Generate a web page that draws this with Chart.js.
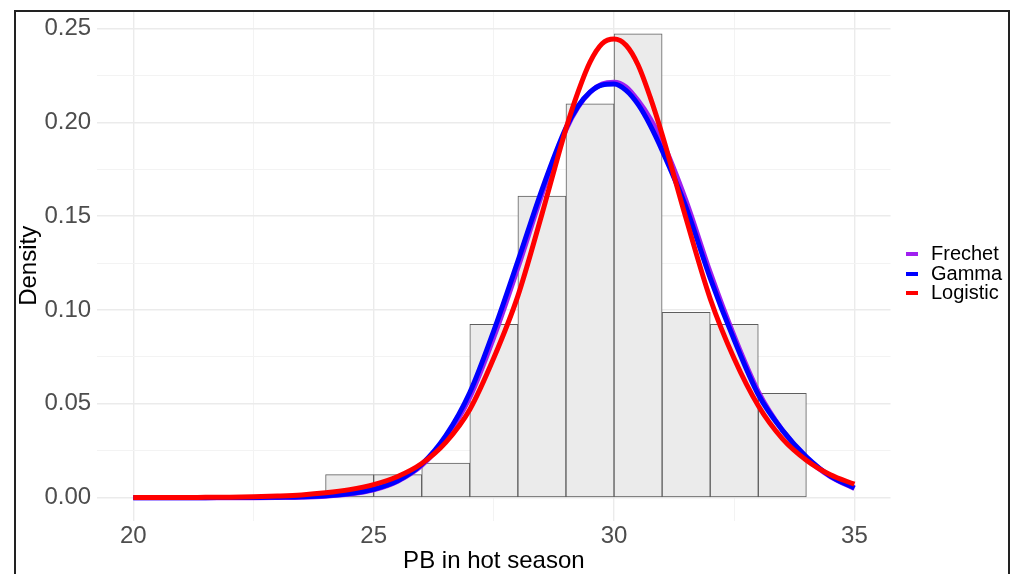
<!DOCTYPE html>
<html>
<head>
<meta charset="utf-8">
<script src="https://cdn.jsdelivr.net/npm/chart.js@4"></script>
<style>
  html, body { margin: 0; padding: 0; background: #fff; overflow: hidden; width: 1014px; height: 574px; }
  #wrap { position: relative; width: 1014px; height: 574px; }
  canvas { position: absolute; left: 0; top: 0; }
  #frame { position: absolute; left: 14px; top: 10px; width: 996px; height: 620px; box-sizing: border-box;
           border: 2px solid #222; pointer-events: none; }
  #legend { position: absolute; left: 904px; top: 244px; font-family: "Liberation Sans", Arial, sans-serif;
            font-size: 20px; color: #000; }
  .item { position: relative; height: 19.5px; line-height: 19.5px; white-space: nowrap; }
  .key { position: absolute; left: 2px; top: 8px; width: 12px; height: 4px; }
  .lab { position: absolute; left: 27px; top: 0; }
</style>
</head>
<body>
<div id="wrap">
  <canvas id="c" width="1014" height="576"></canvas>
  <div id="legend"></div>
  <div id="frame"></div>
</div>
<script>
// ---- data ----
const binStarts = [24, 25, 26, 27, 28, 29, 30, 31, 32, 33];
const binDensity = [0.0123, 0.0123, 0.0185, 0.0923, 0.1606, 0.2098, 0.2471, 0.0987, 0.0923, 0.0556];
const binWidth = 1;

const curveX = [20, 20.5, 21, 21.5, 22, 22.5, 23, 23.5, 24, 24.5, 25, 25.5, 26, 26.5, 27, 27.5,
                28, 28.5, 29, 29.25, 29.5, 29.75, 30, 30.25, 30.5, 30.75, 31, 31.5, 32, 32.5, 33, 33.5, 34, 34.5, 35];
const frechetY = [0, 0, 0, 0, 0, 0, 0.0001, 0.0003, 0.0008, 0.0019, 0.0042, 0.0088, 0.0172, 0.0318, 0.0535, 0.0855,
                  0.1225, 0.1615, 0.1960, 0.2080, 0.2160, 0.2203, 0.2213, 0.2188, 0.2115, 0.2020, 0.1900,
                  0.1580, 0.1200, 0.0860, 0.0565, 0.0360, 0.0212, 0.0112, 0.0049];
const gammaY = [0, 0, 0, 0, 0.0001, 0.0001, 0.0003, 0.0005, 0.0010, 0.0022, 0.0045, 0.0090, 0.0178, 0.0330, 0.0560, 0.0890,
                0.1260, 0.1640, 0.1970, 0.2085, 0.2160, 0.2198, 0.2203, 0.2170, 0.2095, 0.1985, 0.1850,
                0.1545, 0.1170, 0.0840, 0.0550, 0.0360, 0.0218, 0.0115, 0.0052];
const logisticY = [0.0001, 0.0001, 0.0001, 0.0002, 0.0003, 0.0005, 0.0009, 0.0015, 0.0026, 0.0043, 0.0070, 0.0113, 0.0182, 0.0295, 0.0470, 0.0745,
                   0.1075, 0.1510, 0.1965, 0.2160, 0.2320, 0.2418, 0.2443, 0.2410, 0.2305, 0.2135, 0.1935,
                   0.1485, 0.1060, 0.0740, 0.0490, 0.0315, 0.0200, 0.0122, 0.0072];

const seriesNames = ['Frechet', 'Gamma', 'Logistic'];
const seriesColors = ['#A020F0', '#0000FF', '#FF0000'];

const xTickValues = [20, 25, 30, 35];
const xTickLabels = ['20', '25', '30', '35'];
const yTickValues = [0, 0.05, 0.10, 0.15, 0.20, 0.25];
const yTickLabels = ['0.00', '0.05', '0.10', '0.15', '0.20', '0.25'];

const xTitle = 'PB in hot season';
const yTitle = 'Density';

// ---- build ----
const FONT = '"Liberation Sans", Arial, sans-serif';
const pts = ys => curveX.map((x, i) => ({ x: x, y: ys[i] }));
const bars = binStarts.map((s, i) => ({ x: s + binWidth / 2, y: binDensity[i] }));

function labelFor(values, labels, v) {
  for (let i = 0; i < values.length; i++) if (Math.abs(values[i] - v) < 1e-9) return labels[i];
  return '';
}
function isMajor(values, v) {
  return values.some(t => Math.abs(t - v) < 1e-9);
}

const lineDs = (name, ys, color, order) => ({
  type: 'line', label: name, data: pts(ys), borderColor: color, backgroundColor: color,
  borderWidth: 5, pointRadius: 0, fill: false, cubicInterpolationMode: 'monotone', order: order,
  borderCapStyle: 'butt', borderJoinStyle: 'round'
});

const gridColor = (vals) => (ctx) => isMajor(vals, ctx.tick.value) ? '#EBEBEB' : '#F3F3F3';
const gridWidth = (vals) => (ctx) => isMajor(vals, ctx.tick.value) ? 1.4 : 1;

new Chart(document.getElementById('c'), {
  type: 'line',
  data: {
    datasets: [
      { type: 'bar', label: 'hist', data: bars, backgroundColor: '#EBEBEB', borderColor: '#5E5E5E',
        borderWidth: 1, borderSkipped: false, barPercentage: 1, categoryPercentage: 1, order: 4 },
      lineDs(seriesNames[0], frechetY, seriesColors[0], 3),
      lineDs(seriesNames[1], gammaY, seriesColors[1], 2),
      lineDs(seriesNames[2], logisticY, seriesColors[2], 1)
    ]
  },
  options: {
    responsive: false,
    animation: false,
    events: [],
    layout: { padding: { left: 15, right: 123.5, top: 10.7, bottom: 0 } },
    plugins: { legend: { display: false }, tooltip: { enabled: false } },
    scales: {
      x: {
        type: 'linear', min: 19.25, max: 35.75, offset: false,
        ticks: {
          stepSize: 2.5, includeBounds: false, autoSkip: false, maxRotation: 0, padding: 1,
          color: '#4D4D4D', font: { family: FONT, size: 24 },
          callback: v => labelFor(xTickValues, xTickLabels, v)
        },
        grid: { offset: false, drawTicks: false, color: gridColor(xTickValues), lineWidth: gridWidth(xTickValues) },
        border: { display: false },
        title: { display: true, text: xTitle, color: '#000', font: { family: FONT, size: 24 }, padding: { top: 0, bottom: 0 } },
        afterFit: s => { s.height = 55.1; s.paddingLeft = 0; s.paddingRight = 0; }
      },
      y: {
        type: 'linear', min: -0.01235, max: 0.2594,
        ticks: {
          stepSize: 0.025, includeBounds: false, autoSkip: false, padding: 6,
          color: '#4D4D4D', font: { family: FONT, size: 24 },
          callback: v => labelFor(yTickValues, yTickLabels, v)
        },
        grid: { drawTicks: false, color: gridColor(yTickValues), lineWidth: gridWidth(yTickValues) },
        border: { display: false },
        title: { display: true, text: yTitle, color: '#000', font: { family: FONT, size: 24 }, padding: { top: 0, bottom: 0 } },
        afterFit: s => { s.width = 82.2; s.paddingTop = 0; s.paddingBottom = 0; }
      }
    }
  }
});

// legend (HTML text)
const leg = document.getElementById('legend');
seriesNames.forEach((n, i) => {
  const it = document.createElement('div');
  it.className = 'item';
  it.innerHTML = '<span class="key" style="background:' + seriesColors[i] + '"></span><span class="lab"></span>';
  it.querySelector('.lab').textContent = n;
  leg.appendChild(it);
});
</script>
</body>
</html>
